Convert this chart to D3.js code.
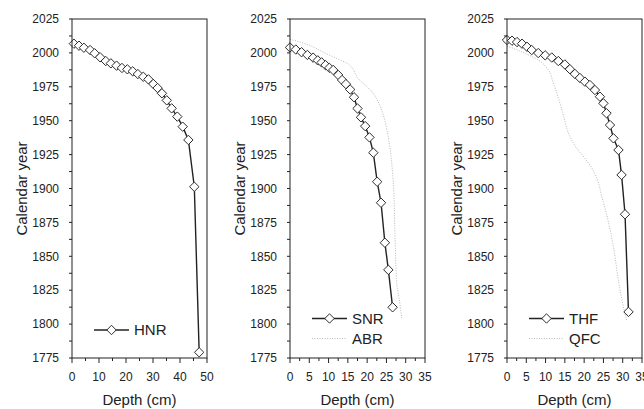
<!DOCTYPE html>
<html>
<head>
<meta charset="utf-8">
<script src="https://cdn.jsdelivr.net/npm/d3@7"></script>
<style>
  body { margin: 0; background: #fff; }
  text { font-family: Arial, "Liberation Sans", sans-serif; fill: #222; }
</style>
</head>
<body>
<svg id="chart" width="644" height="409"></svg>
<script>
"use strict";

// depth (cm), calendar year
const hnr = [
  [0.7, 2006.8], [2.6, 2005.3], [4.4, 2003.8], [6.7, 2002.1], [8.4, 1999.7],
  [10.4, 1996.8], [12.5, 1994.0], [14.4, 1992.3], [16.5, 1990.6], [18.5, 1988.9],
  [20.5, 1987.9], [22.5, 1986.4], [24.4, 1984.4], [26.4, 1982.4], [28.3, 1980.5],
  [30.1, 1977.1], [31.7, 1974.1], [33.3, 1970.2], [35.1, 1965.0], [36.9, 1959.1],
  [39.0, 1953.0], [41.0, 1945.6], [43.1, 1935.8], [45.3, 1901.3], [47.1, 1779.2]
];

const snr = [
  [0, 2004], [1.5, 2002.5], [3, 2000.5], [4.5, 1998.5], [6, 1996.5],
  [7.2, 1994.5], [8.2, 1993], [9.2, 1991], [10.2, 1989], [11.2, 1987.4],
  [12.5, 1983.7], [13.5, 1980], [14.5, 1977], [15.6, 1973], [16.6, 1967.3],
  [17.5, 1959], [18.4, 1952.5], [19.5, 1946], [20.6, 1937.7], [21.6, 1926.4],
  [22.6, 1905], [23.6, 1889.5], [24.6, 1860], [25.5, 1840], [26.6, 1812.4]
];

const abr = [
  [0, 2010], [2, 2008.5], [4.7, 2006], [7, 2003], [9, 2000], [12, 1996],
  [15, 1992], [18, 1980], [20, 1975], [21.6, 1970], [23, 1963], [24, 1956],
  [25, 1945], [25.9, 1930], [26.5, 1915], [26.8, 1904], [27.2, 1867],
  [27.7, 1830], [28.5, 1815], [29, 1804]
];

const thf = [
  [0, 2009.5], [1.3, 2009], [2.6, 2008], [3.9, 2006.8], [5.2, 2004.5],
  [6.4, 2002.1], [8.1, 1999.9], [9.9, 1998.2], [11.6, 1996.6], [13.3, 1994],
  [15.0, 1991.5], [16.3, 1988], [17.6, 1984.5], [18.9, 1981.5], [20.2, 1978.8],
  [21.5, 1976.3], [22.8, 1972.6], [24.1, 1967.7], [25.0, 1962.8], [25.8, 1955.5],
  [26.7, 1946.8], [27.6, 1937], [28.9, 1928.4], [29.7, 1910], [30.6, 1881],
  [31.5, 1809]
];

const qfc = [
  [0, 2005], [2, 2003], [4.6, 1999.7], [8.1, 1994.8], [10.7, 1987.4],
  [12, 1978], [13.5, 1965], [14.8, 1952], [15.9, 1941], [18, 1930],
  [20, 1923], [22, 1915], [23.5, 1906], [24.5, 1895], [25.9, 1880],
  [27.6, 1857], [28.9, 1832], [30, 1815], [31, 1803]
];

const yearTicks = [1775, 1800, 1825, 1850, 1875, 1900, 1925, 1950, 1975, 2000, 2025];

const panels = [
  { left: 72, xmax: 50, major: 10, minor: 5,
    series: [{ name: 'HNR', data: hnr, solid: true }] },
  { left: 290, xmax: 35, major: 5, minor: 2.5,
    series: [{ name: 'SNR', data: snr, solid: true }, { name: 'ABR', data: abr, solid: false }] },
  { left: 507, xmax: 35, major: 5, minor: 2.5,
    series: [{ name: 'THF', data: thf, solid: true }, { name: 'QFC', data: qfc, solid: false }] }
];

const plotTop = 19, plotBottom = 358, plotWidth = 135;
const ink = '#222';
const dotted = '#b8b8b8';

const svg = d3.select('#chart');

const diamond = d3.symbol().type(d3.symbolSquare).size(44);

const drawPanel = (p) => {
  const x = d3.scaleLinear().domain([0, p.xmax]).range([p.left, p.left + plotWidth]);
  const y = d3.scaleLinear().domain([1775, 2025]).range([plotBottom, plotTop]);
  const g = svg.append('g');

  const line = d3.line().curve(d3.curveMonotoneY).x(d => x(d[0])).y(d => y(d[1]));
  const straight = d3.line().x(d => x(d[0])).y(d => y(d[1]));

  // dotted series go under the solid one
  p.series.filter(s => !s.solid).forEach(s => {
    g.append('path')
      .attr('d', line(s.data))
      .attr('fill', 'none')
      .attr('stroke', dotted)
      .attr('stroke-width', 1)
      .attr('stroke-dasharray', '1,1.5');
  });

  p.series.filter(s => s.solid).forEach(s => {
    g.append('path')
      .attr('d', straight(s.data))
      .attr('fill', 'none')
      .attr('stroke', ink)
      .attr('stroke-width', 1.4);
    g.selectAll(null)
      .data(s.data)
      .enter().append('path')
        .attr('d', diamond)
        .attr('transform', d => `translate(${x(d[0])},${y(d[1])}) rotate(45)`)
        .attr('fill', '#fff')
        .attr('stroke', ink)
        .attr('stroke-width', 0.9);
  });

  // frame
  g.append('rect')
    .attr('x', p.left).attr('y', plotTop)
    .attr('width', plotWidth).attr('height', plotBottom - plotTop)
    .attr('fill', 'none').attr('stroke', ink).attr('stroke-width', 1);

  // y ticks
  const yMinor = d3.range(1775, 2025.1, 12.5);
  g.selectAll(null).data(yMinor).enter().append('line')
    .attr('x1', p.left - 3).attr('x2', p.left)
    .attr('y1', d => y(d)).attr('y2', d => y(d))
    .attr('stroke', ink);
  g.selectAll(null).data(yearTicks).enter().append('text')
    .attr('x', p.left - 13)
    .attr('y', d => y(d))
    .attr('dy', '0.35em')
    .attr('text-anchor', 'end')
    .attr('font-size', 12)
    .text(d => d);

  // x ticks
  const xMinor = d3.range(0, p.xmax + 0.01, p.minor);
  g.selectAll(null).data(xMinor).enter().append('line')
    .attr('x1', d => x(d)).attr('x2', d => x(d))
    .attr('y1', plotBottom)
    .attr('y2', d => plotBottom + (Math.abs(d / p.major - Math.round(d / p.major)) < 1e-6 ? 5 : 3))
    .attr('stroke', ink);
  g.selectAll(null).data(d3.range(0, p.xmax + 0.01, p.major)).enter().append('text')
    .attr('x', d => x(d))
    .attr('y', 381)
    .attr('text-anchor', 'middle')
    .attr('font-size', 12)
    .text(d => d);

  g.append('text')
    .attr('x', p.left + plotWidth / 2)
    .attr('y', 405)
    .attr('text-anchor', 'middle')
    .attr('font-size', 15)
    .text('Depth (cm)');

  g.append('text')
    .attr('transform', `translate(${p.left - 45},${(plotTop + plotBottom) / 2}) rotate(-90)`)
    .attr('text-anchor', 'middle')
    .attr('font-size', 15)
    .text('Calendar year');

  // legend
  const lx = p.left + 22;
  const ly = p.series.length === 1 ? 330 : 318.5;
  p.series.forEach((s, i) => {
    const yy = ly + i * 20;
    if (s.solid) {
      g.append('line')
        .attr('x1', lx).attr('x2', lx + 35)
        .attr('y1', yy).attr('y2', yy)
        .attr('stroke', ink).attr('stroke-width', 1.4);
      g.append('path')
        .attr('d', diamond)
        .attr('transform', `translate(${lx + 17.5},${yy}) rotate(45)`)
        .attr('fill', '#fff').attr('stroke', ink).attr('stroke-width', 0.9);
    } else {
      g.append('line')
        .attr('x1', lx).attr('x2', lx + 35)
        .attr('y1', yy).attr('y2', yy)
        .attr('stroke', dotted).attr('stroke-width', 1)
        .attr('stroke-dasharray', '1,1.5');
    }
    g.append('text')
      .attr('x', lx + 40)
      .attr('y', yy)
      .attr('dy', '0.36em')
      .attr('font-size', 15)
      .text(s.name);
  });
};

panels.forEach(drawPanel);
</script>
</body>
</html>
